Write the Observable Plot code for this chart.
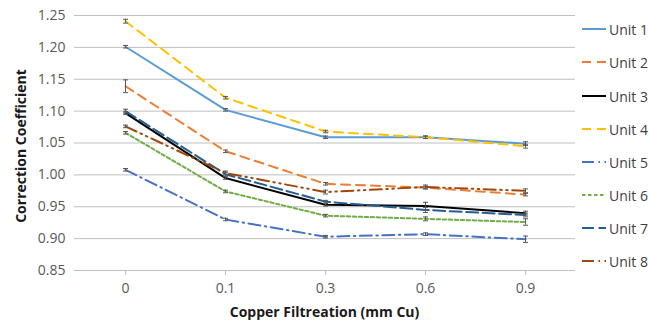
<!DOCTYPE html>
<html><head><meta charset="utf-8">
<script src="https://cdn.jsdelivr.net/npm/d3@7"></script>
<script src="https://cdn.jsdelivr.net/npm/@observablehq/plot@0.6"></script>
<style>
body{margin:0;background:#fff;}
#chart{position:relative;width:649px;height:327px;font-family:"Open Sans",sans-serif;}
.item{position:absolute;left:582px;display:flex;align-items:center;white-space:nowrap;font-size:14px;color:#404040;height:20px;}
.item svg{margin-right:2px;}
#xtitle{position:absolute;left:74px;width:501px;top:302px;text-align:center;font-weight:bold;font-size:14px;color:#1a1a1a;}
#ytitle{position:absolute;left:20px;top:146px;transform:translate(-50%,-50%) rotate(-90deg);font-weight:bold;font-size:14px;color:#1a1a1a;white-space:nowrap;}
</style></head><body><div id="chart"></div>
<script>
const categories = ["0", "0.1", "0.3", "0.6", "0.9"];
const units = ["Unit 1", "Unit 2", "Unit 3", "Unit 4", "Unit 5", "Unit 6", "Unit 7", "Unit 8"];
const unit1 = [1.201, 1.102, 1.059, 1.059, 1.049];
const unit2 = [1.139, 1.037, 0.986, 0.980, 0.969];
const unit3 = [1.097, 0.995, 0.953, 0.951, 0.940];
const unit4 = [1.241, 1.121, 1.068, 1.059, 1.045];
const unit5 = [1.008, 0.930, 0.903, 0.907, 0.899];
const unit6 = [1.066, 0.974, 0.936, 0.931, 0.926];
const unit7 = [1.100, 1.001, 0.958, 0.945, 0.937];
const unit8 = [1.076, 1.003, 0.973, 0.981, 0.975];
const err1 = [0.002, 0.002, 0.002, 0.002, 0.003];
const err2 = [0.010, 0.002, 0.002, 0.002, 0.002];
const err3 = [0.002, 0.002, 0.002, 0.006, 0.003];
const err4 = [0.003, 0.002, 0.002, 0.002, 0.003];
const err5 = [0.002, 0.002, 0.002, 0.002, 0.005];
const err6 = [0.002, 0.002, 0.002, 0.003, 0.005];
const err7 = [0.003, 0.003, 0.002, 0.004, 0.003];
const err8 = [0.002, 0.003, 0.003, 0.003, 0.003];
const yTicks = [0.85, 0.90, 0.95, 1.00, 1.05, 1.10, 1.15, 1.20, 1.25];

const values = [unit1, unit2, unit3, unit4, unit5, unit6, unit7, unit8];
const errors = [err1, err2, err3, err4, err5, err6, err7, err8];
const colors = ["#5B9BD5", "#ED7D31", "#000000", "#FFC000", "#4472C4", "#70AD47", "#255E91", "#9E480E"];
const dashes = [null, "9,6", null, "9,6", "12,4.5,1.5,4.5", "3.5,2.5", "12,4.5", "12,4.5,1.5,4.5,1.5,4.5"];

const rows = [];
units.forEach((u, i) => categories.forEach((c, j) => rows.push({unit: u, i, cat: c, v: values[i][j], e: errors[i][j]})));

const cap = {draw(ctx) { ctx.moveTo(-2.5, 0); ctx.lineTo(2.5, 0); }};

const marks = [
  Plot.ruleY(yTicks, {stroke: "#bfbfbf", strokeWidth: 1}),
  Plot.axisY({ticks: yTicks, tickSize: 0, tickPadding: 9, tickFormat: d => d.toFixed(2), label: null, fill: "#595959", fontSize: 14}),
  Plot.axisX({tickSize: 5, tickPadding: 8, stroke: "#bfbfbf", label: null, fill: "#595959", fontSize: 14})
];
units.forEach((u, i) => {
  marks.push(Plot.line(rows.filter(d => d.i === i), {x: "cat", y: "v", stroke: colors[i], strokeWidth: 2, strokeDasharray: dashes[i] || undefined}));
});
marks.push(Plot.ruleX(rows, {x: "cat", y1: d => d.v - d.e, y2: d => d.v + d.e, stroke: "#595959", strokeWidth: 1}));
marks.push(Plot.dot(rows, {x: "cat", y: d => d.v - d.e, symbol: cap, r: 3, stroke: "#595959", fill: "none", strokeWidth: 1}));
marks.push(Plot.dot(rows, {x: "cat", y: d => d.v + d.e, symbol: cap, r: 3, stroke: "#595959", fill: "none", strokeWidth: 1}));

const chart = Plot.plot({
  width: 649, height: 327,
  marginLeft: 74, marginRight: 74, marginTop: 15, marginBottom: 57,
  style: {fontFamily: "Open Sans, sans-serif", fontSize: "14px", background: "#fff", color: "#595959"},
  x: {type: "point", domain: categories, padding: 0.5},
  y: {domain: [0.85, 1.25]},
  marks
});
const root = document.getElementById("chart");
root.appendChild(chart);

const legendY = [29, 62, 96, 129, 162, 195, 228, 261];
units.forEach((u, i) => {
  const item = document.createElement("div");
  item.className = "item";
  item.style.top = (legendY[i] - 10) + "px";
  const s = d3.create("svg").attr("width", 25).attr("height", 6);
  s.append("line").attr("x1", 0).attr("x2", 24).attr("y1", 3).attr("y2", 3)
    .attr("stroke", colors[i]).attr("stroke-width", 2)
    .attr("stroke-dasharray", dashes[i] || null);
  item.appendChild(s.node());
  const t = document.createElement("span");
  t.textContent = u;
  item.appendChild(t);
  root.appendChild(item);
});
const xt = document.createElement("div"); xt.id = "xtitle"; xt.textContent = "Copper Filtreation (mm Cu)"; root.appendChild(xt);
const yt = document.createElement("div"); yt.id = "ytitle"; yt.textContent = "Correction Coefficient"; root.appendChild(yt);
</script></body></html>
